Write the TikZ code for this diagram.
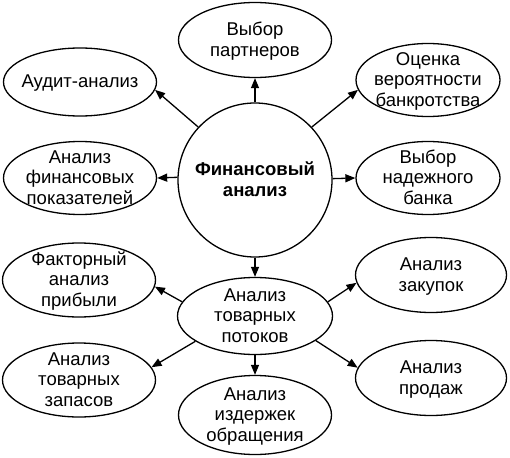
\documentclass[tikz,border=0pt]{standalone}
\usepackage{fontspec}
\setmainfont{Liberation Sans}
\usetikzlibrary{shapes.geometric,arrows.meta}
\newcommand{\bt}[1]{\raisebox{-6pt}[0pt][0pt]{\makebox[0pt]{\begin{tabular}{@{}c@{}}#1\end{tabular}}}}
\begin{document}
\begin{tikzpicture}[x=1pt,y=-1pt,
  bub/.style 2 args={ellipse, draw, line width=1.3pt, minimum width=#1pt, minimum height=#2pt, inner sep=0pt, font=\fontsize{18.5}{20.5}\selectfont},
  hub/.style={circle, draw, line width=1.3pt, minimum size=154pt, inner sep=0pt, font=\fontsize{18.5}{21.5}\selectfont\bfseries},
  arr/.style={line width=1.3pt, -{Triangle[length=10pt,width=8pt]}}]
\useasboundingbox (0,0) rectangle (510,457);
\fill[white] (0,0) rectangle (510,457);

\node[hub] (fa) at (255,180) {\bt{Финансовый\\анализ}};
\node[bub={153}{75}] (par) at (255,40) {\bt{Выбор\\партнеров}};
\node[bub={153}{68}] (aud) at (80,82) {\bt{Аудит-анализ}};
\node[bub={153}{73}] (fin) at (80,178) {\bt{Анализ\\финансовых\\показателей}};
\node[bub={144}{73}] (ots) at (428,80) {\bt{Оценка\\вероятности\\банкротства}};
\node[bub={144}{73}] (bnk) at (428,178) {\bt{Выбор\\надежного\\банка}};
\node[bub={155}{77}] (pot) at (255,316) {\bt{Анализ\\товарных\\потоков}};
\node[bub={153}{74}] (fak) at (79,280) {\bt{Факторный\\анализ\\прибыли}};
\node[bub={153}{74}] (zap) at (79,380) {\bt{Анализ\\товарных\\запасов}};
\node[bub={153}{79}] (izd) at (255,415) {\bt{Анализ\\издержек\\обращения}};
\node[bub={151}{75}] (zak) at (431,275) {\bt{Анализ\\закупок}};
\node[bub={151}{75}] (prd) at (431,378) {\bt{Анализ\\продаж}};

\draw[arr] (fa.north) -- (par.south);
\draw[arr] (fa.137) -- (aud.-6);
\draw[arr] (fa.43) -- (ots.188);
\draw[arr] (fa.178.5) -- (fin.east);
\draw[arr] (fa.1.5) -- (bnk.west);
\draw[arr] (fa.south) -- (pot.north);
\draw[arr] (pot.169) -- (fak.-5);
\draw[arr] (pot.203) -- (zap.10);
\draw[arr] (pot.south) -- (izd.north);
\draw[arr] (pot.11) -- (zak.186);
\draw[arr] (pot.-22) -- (prd.172);
\end{tikzpicture}
\end{document}
